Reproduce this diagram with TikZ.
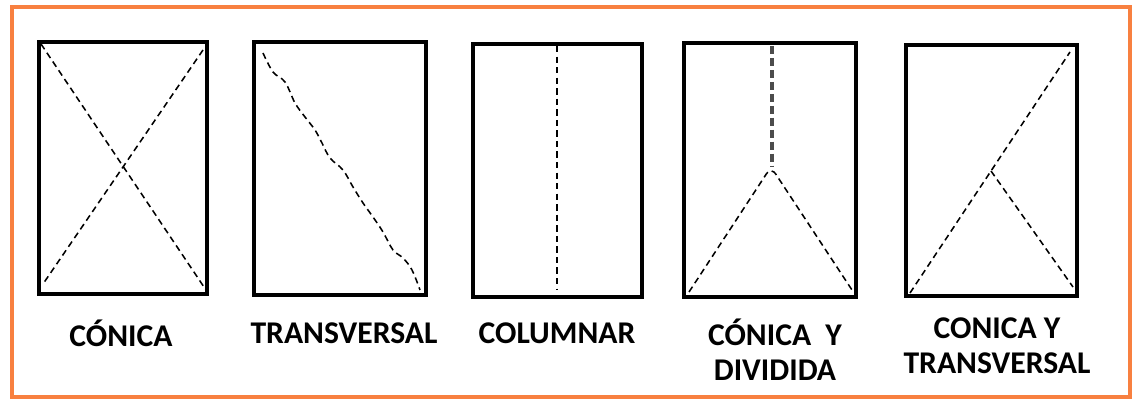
\documentclass[tikz,border=0pt]{standalone}
\usepackage{fontspec}
\setmainfont{Carlito}
\definecolor{marco}{RGB}{248,128,64}
\begin{document}
\begin{tikzpicture}[x=0.025cm, y=-0.025cm,
    panel/.style={draw=black, line width=2.6pt},
    corte/.style={black, line width=1.1pt, dash pattern=on 4.5pt off 3pt},
    etiqueta/.style={font=\fontsize{22.5}{25}\selectfont\bfseries, align=center, inner sep=0pt}]
    \useasboundingbox (0,0) rectangle (1134,399);

    % Marco naranja
    \draw[marco, line width=2.6pt] (12,7) rectangle (1130,397);

    % Cajas
    \draw[panel] (39,42) rectangle (207,294);
    \draw[panel] (254,42) rectangle (426,295);
    \draw[panel] (473,44) rectangle (642,297);
    \draw[panel] (684,43) rectangle (856,297);
    \draw[panel] (906,45) rectangle (1077,296);
    % bordes izquierdos mas gruesos
    \draw[line width=1.2pt] (40,42) -- (40,294);
    \draw[line width=1.2pt] (255,42) -- (255,295);

    % Conica
    \draw[corte] (41,44) -- (206,290);
    \draw[corte] (203,50) -- (43,284);

    % Transversal
    \draw[corte] plot[smooth, tension=0.6] coordinates {(263,53) (273,72) (285,82) (295,103)
        (305,117) (315,130) (322,143) (330,158) (343,170) (353,187) (363,203) (373,217)
        (383,232) (393,250) (403,258) (412,270) (420,290)};

    % Columnar
    \draw[corte] (557,46) -- (557,289);

    % Conica y dividida
    \draw[black!70, line width=2.6pt, dash pattern=on 6pt off 2.5pt] (772,46) -- (772,166);
    \draw[corte] (689,292) -- (765,176) .. controls (769,169) and (773,169) .. (777,176) -- (852,290);

    % Conica y transversal
    \draw[corte] (910,293) -- (1070,52);
    \draw[corte] (991,171) -- (1073,287);

    % Etiquetas
    \node[etiqueta] (conica) at (121,333) {CÓNICA};
    \node[etiqueta] (transversal) at (344,333) {TRANSVERSAL};
    \node[etiqueta] (columnar) at (557,333) {COLUMNAR};
    \node[etiqueta] (dividida) at (775,350) {CÓNICA\ \ Y\\DIVIDIDA};
    \node[etiqueta] (mixta) at (997,346) {CONICA Y\\TRANSVERSAL};
\end{tikzpicture}
\end{document}
